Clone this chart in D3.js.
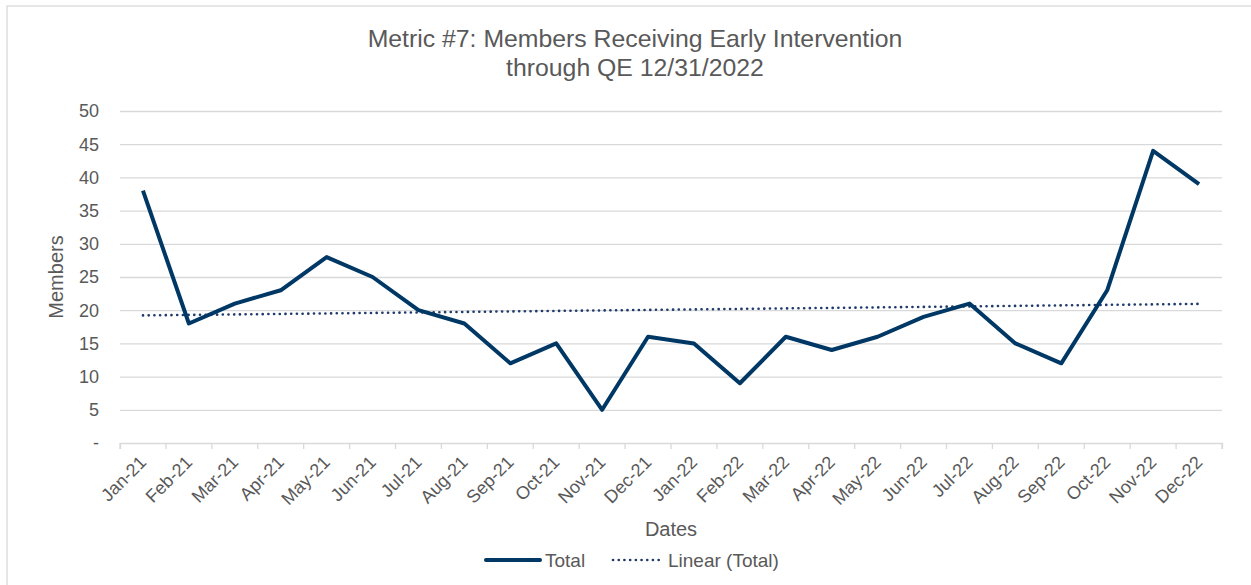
<!DOCTYPE html>
<html>
<head>
<meta charset="utf-8">
<script src="https://cdn.jsdelivr.net/npm/d3@7"></script>
<style>
  body { margin: 0; background: #fff; }
  svg text { font-family: "Liberation Sans", Arial, sans-serif; fill: #595959; }
  .grid line { stroke: #d9d9d9; stroke-width: 1.3; }
  .grid path { display: none; }
</style>
</head>
<body>
<div id="chart"></div>
<script>
// data
var months = ["Jan-21","Feb-21","Mar-21","Apr-21","May-21","Jun-21","Jul-21","Aug-21","Sep-21","Oct-21","Nov-21","Dec-21",
              "Jan-22","Feb-22","Mar-22","Apr-22","May-22","Jun-22","Jul-22","Aug-22","Sep-22","Oct-22","Nov-22","Dec-22"];
var totals = [38, 18, 21, 23, 28, 25, 20, 18, 12, 15, 5, 16,
              15, 9, 16, 14, 16, 19, 21, 15, 12, 23, 44, 39];
var yTicks = [0, 5, 10, 15, 20, 25, 30, 35, 40, 45, 50];

var w = 1251, h = 585;
var plotLeft = 120, plotRight = 1222, plotTop = 111, plotBottom = 443;
var navy = "#003865";
var dotBlue = "#1f3a6b";

var svg = d3.select("#chart").append("svg")
  .attr("width", w).attr("height", h);

// chart border
svg.append("rect")
  .attr("x", 7).attr("y", 6)
  .attr("width", w + 20).attr("height", h + 20)
  .attr("fill", "none").attr("stroke", "#d9d9d9").attr("stroke-width", 1.3);

var x = d3.scaleBand().domain(months).range([plotLeft, plotRight]);
var y = d3.scaleLinear().domain([0, 50]).range([plotBottom, plotTop]);

// gridlines
svg.append("g")
  .attr("class", "grid")
  .attr("transform", "translate(" + plotLeft + ",0)")
  .call(d3.axisLeft(y).tickValues(yTicks.slice(1)).tickSize(-(plotRight - plotLeft)).tickFormat(""));

// y labels
svg.append("g").selectAll("text")
  .data(yTicks).enter().append("text")
  .attr("x", 99)
  .attr("y", function(d) { return y(d); })
  .attr("dy", "0.35em")
  .attr("text-anchor", "end")
  .style("font-size", "18px")
  .text(function(d) { return d === 0 ? "-" : d; });

// x axis
var xAxis = svg.append("g")
  .attr("transform", "translate(0," + plotBottom + ")")
  .call(d3.axisBottom(x).tickSize(6).tickFormat(""));
xAxis.select(".domain").attr("stroke", "#d9d9d9").attr("stroke-width", 1.3);
xAxis.selectAll(".tick line")
  .attr("stroke", "#d9d9d9").attr("stroke-width", 1.3)
  .attr("transform", "translate(" + (-x.bandwidth() / 2) + ",0)");
// closing tick at the right end
xAxis.append("line")
  .attr("x1", plotRight).attr("x2", plotRight).attr("y1", 0).attr("y2", 6)
  .attr("stroke", "#d9d9d9").attr("stroke-width", 1.3);

svg.append("g").selectAll("text")
  .data(months).enter().append("text")
  .attr("transform", function(d) {
    return "translate(" + (x(d) + x.bandwidth() / 2) + "," + (plotBottom + 16) + ") rotate(-45)";
  })
  .attr("text-anchor", "end")
  .attr("dy", "0.35em")
  .style("font-size", "18px")
  .text(function(d) { return d; });

// trend line (least squares on the series)
var n = totals.length;
var mx = d3.mean(d3.range(n)), my = d3.mean(totals);
var slope = d3.sum(d3.range(n), function(i) { return (i - mx) * (totals[i] - my); }) /
            d3.sum(d3.range(n), function(i) { return (i - mx) * (i - mx); });
var trend = totals.map(function(v, i) { return my + slope * (i - mx); });

var line = d3.line()
  .x(function(d, i) { return x(months[i]) + x.bandwidth() / 2; })
  .y(function(d) { return y(d); });

svg.append("path")
  .datum(trend)
  .attr("d", line)
  .attr("fill", "none")
  .attr("stroke", dotBlue)
  .attr("stroke-width", 2.6)
  .attr("stroke-linecap", "round")
  .attr("stroke-dasharray", "0.1 5.6");

svg.append("path")
  .datum(totals)
  .attr("d", line)
  .attr("fill", "none")
  .attr("stroke", navy)
  .attr("stroke-width", 4)
  .attr("stroke-linejoin", "round");

// titles
svg.append("text").attr("x", 635).attr("y", 47)
  .attr("text-anchor", "middle").style("font-size", "24.8px")
  .text("Metric #7: Members Receiving Early Intervention");
svg.append("text").attr("x", 635).attr("y", 76)
  .attr("text-anchor", "middle").style("font-size", "24.8px")
  .text("through QE 12/31/2022");

svg.append("text")
  .attr("transform", "translate(63," + ((plotTop + plotBottom) / 2) + ") rotate(-90)")
  .attr("text-anchor", "middle").style("font-size", "20px")
  .text("Members");

svg.append("text").attr("x", 671).attr("y", 536)
  .attr("text-anchor", "middle").style("font-size", "20px")
  .text("Dates");

// legend
var lg = svg.append("g").attr("transform", "translate(0,560)");
lg.append("line").attr("x1", 486).attr("x2", 540).attr("y1", 0).attr("y2", 0)
  .attr("stroke", navy).attr("stroke-width", 4).attr("stroke-linecap", "round");
lg.append("text").attr("x", 545).attr("y", 7).style("font-size", "19px").text("Total");
lg.append("line").attr("x1", 613).attr("x2", 664).attr("y1", 0).attr("y2", 0)
  .attr("stroke", dotBlue).attr("stroke-width", 2.6).attr("stroke-linecap", "round")
  .attr("stroke-dasharray", "0.1 5.6");
lg.append("text").attr("x", 668).attr("y", 7).style("font-size", "19px").text("Linear (Total)");
</script>
</body>
</html>
